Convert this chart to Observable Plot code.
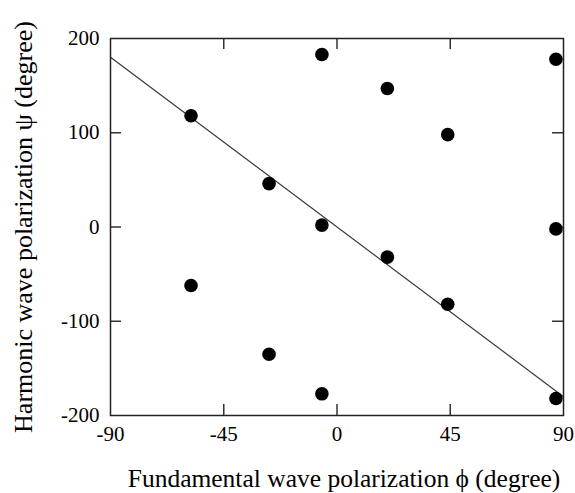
<!DOCTYPE html>
<html>
<head>
<meta charset="utf-8">
<script src="https://cdn.jsdelivr.net/npm/d3@7"></script>
<script src="https://cdn.jsdelivr.net/npm/@observablehq/plot@0.6"></script>
<style>
  html, body { margin: 0; padding: 0; background: #fff; }
</style>
</head>
<body>
<div id="chart"></div>
<script>
// Data
const phi = [-58, -58, -27, -27, -6, -6, -6, 20, 20, 44, 44, 87, 87, 87];
const psi = [118, -62, 46, -135, 183, 2, -177, 147, -32, 98, -82, 178, -2, -182];
const fitX = [-90, 90];
const fitY = [180, -180];
const xTicks = [-90, -45, 0, 45, 90];
const yTicks = [-200, -100, 0, 100, 200];
const xInner = [-45, 0, 45];
const yInner = [-100, 0, 100];
const xLabel = "Fundamental wave polarization ϕ (degree)";
const yLabel = "Harmonic wave polarization ψ (degree)";

const points = phi.map((x, i) => ({x, y: psi[i]}));
const fit = fitX.map((x, i) => ({x, y: fitY[i]}));

const W = 575, H = 493;
const mL = 110, mR = 12, mT = 38, mB = 78;
const frameW = W - mL - mR, frameH = H - mT - mB;
const T = 11;

const chart = Plot.plot({
  width: W,
  height: H,
  marginLeft: mL,
  marginRight: mR,
  marginTop: mT,
  marginBottom: mB,
  style: {fontFamily: "'Liberation Serif', 'DejaVu Serif', serif", background: "#fff", color: "#000"},
  x: {domain: [-90, 90]},
  y: {domain: [-200, 200]},
  marks: [
    Plot.axisX(xTicks, {tickSize: 0, tickPadding: 11, fontSize: 21, label: null, tickFormat: d => String(d)}),
    Plot.axisY(yTicks, {tickSize: 0, tickPadding: 11, fontSize: 21, label: null, tickFormat: d => String(d)}),
    // inward ticks on all four sides
    Plot.tickX(xInner, {x: d => d, insetBottom: frameH - T, stroke: "#333", strokeWidth: 1.5}),
    Plot.tickX(xInner, {x: d => d, insetTop: frameH - T, stroke: "#333", strokeWidth: 1.5}),
    Plot.tickY(yInner, {y: d => d, insetRight: frameW - T, stroke: "#333", strokeWidth: 1.5}),
    Plot.tickY(yInner, {y: d => d, insetLeft: frameW - T, stroke: "#333", strokeWidth: 1.5}),
    Plot.line(fit, {x: "x", y: "y", stroke: "#3a3a3a", strokeWidth: 1.2}),
    Plot.dot(points, {x: "x", y: "y", r: 6.8, fill: "#000", stroke: "none"}),
    Plot.frame({stroke: "#222", strokeWidth: 1.5}),
    Plot.text([xLabel], {frameAnchor: "bottom", textAnchor: "middle", dx: 7, dy: 63, fontSize: 25.5, fill: "#000", lineAnchor: "middle"}),
    Plot.text([yLabel], {frameAnchor: "left", textAnchor: "middle", dx: -87, dy: 0, rotate: -90, fontSize: 26, fill: "#000", lineAnchor: "middle"})
  ]
});
document.getElementById("chart").appendChild(chart);
</script>
</body>
</html>
